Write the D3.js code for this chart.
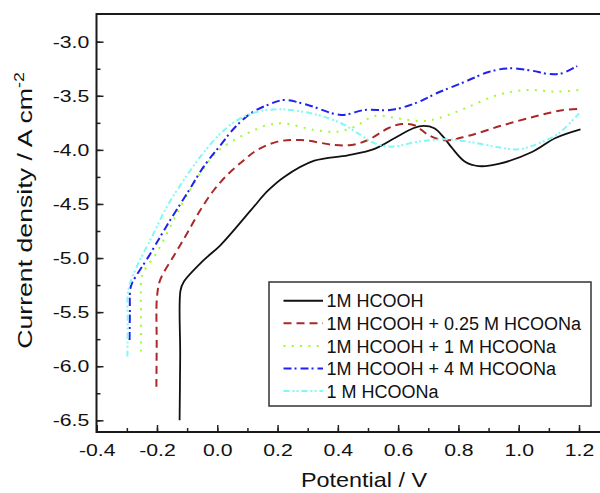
<!DOCTYPE html>
<html>
<head>
<meta charset="utf-8">
<script src="https://cdn.jsdelivr.net/npm/d3@7"></script>
<style>
body { margin: 0; background: #fff; }
text { font-family: "Liberation Sans", Arial, sans-serif; fill: #111; }
</style>
</head>
<body>
<div id="plot"></div>
<script>
// polarization curves, potential (V) vs log current density

const FRAME_WIDTH = 600;
const FRAME_HEIGHT = 493;

// data: [potential, log current density]
const hcooh = [[-0.125,-6.5],[-0.123,-5.9],[-0.122,-5.3],[-0.111,-5.22],[-0.045,-5.02],[0.011,-4.88],
  [0.111,-4.56],[0.167,-4.38],[0.222,-4.25],[0.322,-4.10],[0.433,-4.05],[0.522,-3.99],[0.589,-3.89],[0.65,-3.80],
  [0.685,-3.778],[0.72,-3.80],[0.75,-3.88],[0.778,-3.98],[0.822,-4.11],[0.867,-4.15],[0.933,-4.13],[1.044,-4.02],
  [1.122,-3.89],[1.205,-3.81]];
const hcooh025 = [[-0.202,-6.19],[-0.201,-5.8],[-0.2,-5.36],[-0.189,-5.20],[-0.139,-4.956],[-0.1,-4.771],[-0.056,-4.556],
  [-0.011,-4.371],[0.033,-4.232],[0.089,-4.093],[0.133,-4.0],[0.2,-3.924],[0.278,-3.909],[0.389,-3.955],[0.444,-3.955],
  [0.5,-3.909],[0.567,-3.80],[0.611,-3.761],[0.656,-3.775],[0.7,-3.862],[0.756,-3.912],[0.833,-3.87],[0.944,-3.775],
  [1.056,-3.69],[1.144,-3.634],[1.205,-3.62]];
const hcooh1 = [[-0.253,-5.865],[-0.253,-5.5],[-0.252,-5.2],[-0.244,-5.126],[-0.206,-4.971],[-0.178,-4.833],[-0.145,-4.648],
  [-0.1,-4.417],[-0.045,-4.170],[0,-4.017],[0.056,-3.909],[0.111,-3.832],[0.167,-3.770],[0.222,-3.755],[0.322,-3.816],
  [0.4,-3.832],[0.456,-3.786],[0.522,-3.687],[0.6,-3.708],[0.678,-3.735],[0.733,-3.708],[0.822,-3.616],[0.933,-3.49],
  [1.033,-3.446],[1.122,-3.462],[1.205,-3.446]];
const hcooh4 = [[-0.291,-5.757],[-0.29,-5.5],[-0.289,-5.295],[-0.283,-5.233],[-0.228,-4.987],[-0.189,-4.802],[-0.156,-4.648],
  [-0.1,-4.402],[-0.045,-4.155],[0.011,-3.955],[0.056,-3.800],[0.111,-3.662],[0.167,-3.585],[0.222,-3.539],[0.3,-3.585],
  [0.411,-3.677],[0.489,-3.631],[0.578,-3.63],[0.656,-3.57],[0.733,-3.47],[0.822,-3.37],[0.9,-3.28],[0.967,-3.246],
  [1.044,-3.268],[1.1,-3.299],[1.144,-3.292],[1.194,-3.225]];
const hcoona = [[-0.298,-5.911],[-0.297,-5.6],[-0.295,-5.295],[-0.267,-5.08],[-0.245,-4.956],[-0.211,-4.771],[-0.167,-4.525],
  [-0.111,-4.278],[-0.056,-4.063],[0.011,-3.847],[0.067,-3.724],[0.133,-3.647],[0.2,-3.625],[0.244,-3.631],[0.333,-3.677],
  [0.411,-3.754],[0.467,-3.847],[0.522,-3.939],[0.578,-3.970],[0.667,-3.924],[0.756,-3.902],[0.833,-3.924],[0.933,-3.976],
  [1.0,-3.995],[1.067,-3.939],[1.133,-3.847],[1.2,-3.662]];

const seriesNames = ['1M HCOOH', '1M HCOOH + 0.25 M HCOONa', '1M HCOOH + 1 M HCOONa',
  '1M HCOOH + 4 M HCOONa', '1 M HCOONa'];
const seriesData = [hcooh, hcooh025, hcooh1, hcooh4, hcoona];

const xTicks = [-0.4, -0.2, 0.0, 0.2, 0.4, 0.6, 0.8, 1.0, 1.2];
const yTicks = [-6.5, -6.0, -5.5, -5.0, -4.5, -4.0, -3.5, -3.0];

// styles
const colors = ['#111111', '#aa2828', '#99ff33', '#2020f0', '#80f8f8'];
const dashes = [null, '8,5', '2,6.3', '8,3,2,4', '6,3,2,2,2,3'];

const LEFT = 96.5, TOP = 14, BOTTOM = 432, RIGHT = 612;

const FRAME1 = d3.select('#plot')
  .append('svg')
    .attr('width', FRAME_WIDTH)
    .attr('height', FRAME_HEIGHT);

const x = d3.scaleLinear().domain([-0.4, 1.2]).range([96.7, 579]);
const y = d3.scaleLinear().domain([-6.5, -3.0]).range([420.3, 41.7]);

// minor ticks
const xMinor = d3.range(0, 18).map(i => -0.4 + i * 0.1);
const yMinor = d3.range(0, 15).map(i => -6.5 + i * 0.25);

FRAME1.append('g')
  .attr('transform', `translate(0,${BOTTOM})`)
  .call(d3.axisBottom(x).tickValues(xMinor).tickSize(-4).tickFormat(''))
  .call(g => g.select('.domain').remove())
  .selectAll('line').attr('stroke', '#222').attr('stroke-width', 1.5);

FRAME1.append('g')
  .attr('transform', `translate(${LEFT},0)`)
  .call(d3.axisLeft(y).tickValues(yMinor).tickSize(-4).tickFormat(''))
  .call(g => g.select('.domain').remove())
  .selectAll('line').attr('stroke', '#222').attr('stroke-width', 1.5);

// major ticks + labels
const xAxis = FRAME1.append('g')
  .attr('transform', `translate(0,${BOTTOM})`)
  .call(d3.axisBottom(x).tickValues(xTicks).tickSize(-7).tickPadding(12).tickFormat(d => d.toFixed(1)));
xAxis.select('.domain').remove();
xAxis.selectAll('line').attr('stroke', '#222').attr('stroke-width', 1.5);
xAxis.selectAll('text')
  .attr('font-size', 17)
  .attr('font-family', '"Liberation Sans", Arial, sans-serif')
  .attr('fill', '#111')
  .attr('transform', 'scale(1.25,1)');

const yAxis = FRAME1.append('g')
  .attr('transform', `translate(${LEFT},0)`)
  .call(d3.axisLeft(y).tickValues(yTicks).tickSize(-7).tickPadding(7).tickFormat(d => d.toFixed(1)));
yAxis.select('.domain').remove();
yAxis.selectAll('line').attr('stroke', '#222').attr('stroke-width', 1.5);
yAxis.selectAll('text')
  .attr('font-size', 17)
  .attr('font-family', '"Liberation Sans", Arial, sans-serif')
  .attr('fill', '#111')
  .attr('x', -7.2 / 1.25)
  .attr('transform', 'scale(1.25,1)');

// frame
FRAME1.append('rect')
  .attr('x', LEFT)
  .attr('y', TOP)
  .attr('width', RIGHT - LEFT)
  .attr('height', BOTTOM - TOP)
  .attr('fill', 'none')
  .attr('stroke', '#1a1a1a')
  .attr('stroke-width', 2);

// curves
const line = d3.line()
  .x(d => x(d[0]))
  .y(d => y(d[1]))
  .curve(d3.curveCatmullRom.alpha(0.5));

seriesData.forEach((s, i) => {
  FRAME1.append('path')
    .datum(s)
    .attr('d', line)
    .attr('fill', 'none')
    .attr('stroke', colors[i])
    .attr('stroke-width', i == 0 ? 1.8 : 2)
    .attr('stroke-dasharray', dashes[i]);
});

// legend
FRAME1.append('rect')
  .attr('x', 269)
  .attr('y', 282)
  .attr('width', 322)
  .attr('height', 124)
  .attr('fill', '#fff')
  .attr('stroke', '#333')
  .attr('stroke-width', 1.5);

seriesNames.forEach((name, i) => {
  let ly = 300.7 + i * 22.6;
  FRAME1.append('line')
    .attr('x1', 283.5)
    .attr('x2', 323)
    .attr('y1', ly)
    .attr('y2', ly)
    .attr('stroke', colors[i])
    .attr('stroke-width', 2)
    .attr('stroke-dasharray', dashes[i]);
  FRAME1.append('text')
    .attr('x', 326.5)
    .attr('y', ly + 6.6)
    .attr('font-size', 18)
    .text(name);
});

// axis titles
FRAME1.append('text')
  .attr('transform', 'translate(364,487) scale(1.17,1)')
  .attr('text-anchor', 'middle')
  .attr('font-size', 20)
  .text('Potential / V');

const yTitle = FRAME1.append('text')
  .attr('transform', 'translate(32,210.5) rotate(-90) scale(1.27,1)')
  .attr('text-anchor', 'middle')
  .attr('font-size', 21);
yTitle.append('tspan').text('Current density / A cm');
yTitle.append('tspan').attr('dy', -8).attr('font-size', 14).text('-2');
</script>
</body>
</html>
